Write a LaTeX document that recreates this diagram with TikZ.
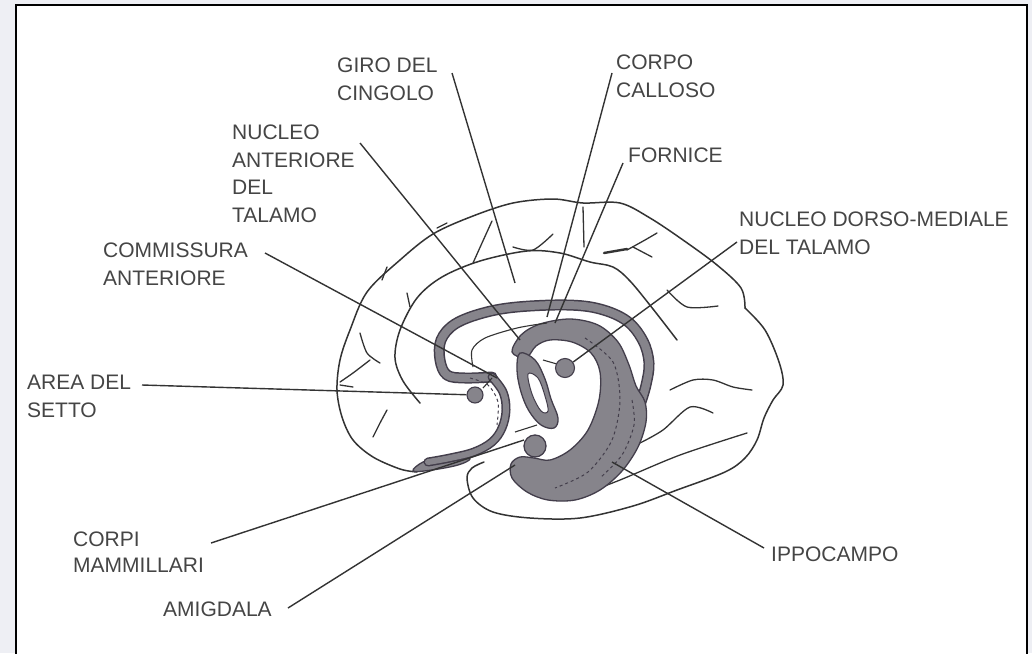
\documentclass[tikz,border=0pt]{standalone}
\usepackage{fontspec}
\setmainfont{Liberation Sans}
\definecolor{ink}{HTML}{333333}
\definecolor{labelgray}{HTML}{454545}
\definecolor{limb}{HTML}{86848B}
\definecolor{limbedge}{HTML}{433E4B}
\definecolor{bgout}{HTML}{EEEFF4}
\begin{document}
\begin{tikzpicture}[x=1pt,y=-1pt,
  lbl/.style={anchor=north west, inner sep=0pt, align=left, text=labelgray,
              font=\fontsize{21}{27.5}\selectfont},
  lead/.style={draw=ink, line width=1.4pt},
  contour/.style={draw=ink, line width=1.5pt, line cap=round, line join=round},
  sulcus/.style={draw=ink, line width=1.3pt, line cap=round},
  grayband/.style={line cap=round, line join=round},
  limbfill/.style={fill=limb, draw=limbedge, line width=1.3pt, line join=round},
  dot/.style={circle, fill=limb, draw=limbedge, line width=1.1pt, inner sep=0pt}]
\useasboundingbox (0,0) rectangle (1032,653);
% page and frame
\fill[bgout] (0,0) rectangle (1032,653);
\filldraw[fill=white, draw=black, line width=2pt] (16,5) rectangle (1027,660);

% ---------- cortex outline ----------
\draw[contour] plot[smooth, tension=0.55] coordinates {
  (417,472) (400,469) (373,457) (353,440) (342,417) (337,390) (340,360)
  (350,330) (367,292) (400,260) (433,234) (473,216) (513,203) (553,199)
  (583,203) (620,203) (650,218) (683,240) (717,265) (741,288) (745,308)};
\draw[contour] plot[smooth, tension=0.55] coordinates {
  (745,308) (765,330) (779,362) (783,385) (773,400) (764,418) (757,440)
  (745,458) (725,472) (677,490) (633,506) (580,518) (530,518) (493,512)
  (473,498) (467,478) (472,468) (484,462)};
% cingulate sulcus
\draw[contour] plot[smooth, tension=0.55] coordinates {
  (420,403) (403,381) (395,358) (400,330) (417,298) (442,277) (480,261)
  (527,251) (560,253) (590,262) (613,267) (630,281) (653,309) (677,340)};
% collateral and other sulci
\draw[sulcus] plot[smooth] coordinates {(573,498) (620,480) (680,455) (747,433)};
\draw[sulcus] plot[smooth] coordinates {(640,443) (663,430) (690,407) (713,413)};
\draw[sulcus] plot[smooth] coordinates {(670,390) (693,380) (713,380) (733,387) (752,390)};
\draw[sulcus] plot[smooth] coordinates {(667,290) (687,307) (718,306)};
\draw[sulcus] plot[smooth] coordinates {(627,250) (645,240) (657,233)};
\draw[sulcus] (633,247) -- (652,257);
\draw[draw=ink, line width=2.4pt, line cap=round] (604,253) -- (627,249);
\draw[sulcus] (583,207) -- (584,247);
\draw[sulcus] plot[smooth] coordinates {(513,247) (533,250) (553,234)};
\draw[sulcus] plot[smooth] coordinates {(473,263) (482,243) (492,221)};
\draw[sulcus] (437,228) -- (447,223);
\draw[sulcus] (382,280) -- (387,267);
\draw[sulcus] (407,293) -- (410,307);
\draw[sulcus] plot[smooth] coordinates {(360,333) (367,353) (380,363)};
\draw[sulcus] plot[smooth] coordinates {(340,382) (353,373) (370,360)};
\draw[sulcus] (340,385) -- (353,387);
\draw[sulcus] plot[smooth] coordinates {(387,410) (380,423) (373,437)};

% ---------- limbic structures ----------
% olfactory piece
\filldraw[limbfill] plot[smooth cycle, tension=0.6] coordinates {
  (413,471) (423,462) (442,457) (462,455) (470,459) (458,465) (432,470)};
% upper arc band, running down into the hippocampus
\draw[grayband, draw=limbedge, line width=11pt] plot[smooth, tension=0.6] coordinates {
  (492,377) (465,378) (447,375) (440,360) (441,340) (455,324) (483,313)
  (517,307) (567,305) (600,309) (627,321) (643,341) (649,363) (646,385) (640,405)};
\draw[grayband, draw=limb, line width=8pt] plot[smooth, tension=0.6] coordinates {
  (492,377) (465,378) (447,375) (440,360) (441,340) (455,324) (483,313)
  (517,307) (567,305) (600,309) (627,321) (643,341) (649,363) (646,385) (640,405)};
% descending band to the olfactory piece
\draw[grayband, draw=limbedge, line width=9pt] plot[smooth, tension=0.6] coordinates {
  (492,377) (503,392) (506,410) (502,428) (492,442) (474,452) (450,458) (428,462)};
\draw[grayband, draw=limb, line width=6pt] plot[smooth, tension=0.6] coordinates {
  (492,377) (503,392) (506,410) (502,428) (492,442) (474,452) (450,458) (428,462)};
% mammillary knob
\filldraw[limbfill] (535,446) circle[radius=11];
% hippocampus
\filldraw[limbfill] plot[smooth cycle, tension=0.55] coordinates {
  (512,352) (521,335) (540,324) (570,319) (598,325) (618,342) (629,365)
  (636,386) (645,402) (646,422) (638,447) (622,471) (600,490) (575,500)
  (548,500) (527,492) (512,478) (511,464) (520,457) (534,458) (550,460)
  (570,450) (588,430) (599,400) (600,372) (591,353) (572,342) (550,340)
  (536,346) (526,358)};
\fill[limb] (535,446) circle[radius=9.8];
% column loop
\filldraw[limbfill] plot[smooth cycle, tension=0.6] coordinates {
  (520,353) (517,370) (521,392) (529,411) (541,425) (554,428) (558,418)
  (551,399) (545,379) (535,360)};
\filldraw[fill=white, draw=limbedge, line width=1pt] plot[smooth cycle, tension=0.6] coordinates {
  (528,374) (532,394) (541,411) (548,411) (545,396) (538,378)};
% texture lines
\draw[draw=limbedge, line width=1pt, dashed] plot[smooth] coordinates {
  (585,338) (613,362) (620,400) (612,440) (588,472) (555,488)};
\draw[draw=limbedge, line width=1pt, dashed] plot[smooth] coordinates {
  (632,400) (634,425) (622,455) (600,478)};
\draw[draw=limbedge, line width=1pt, dashed] plot[smooth] coordinates {
  (470,378) (488,385) (498,402) (497,425)};
% thin lines inside the arc
\draw[draw=ink, line width=1.1pt] plot[smooth] coordinates {
  (473,367) (472,350) (485,338) (517,328) (547,323)};
\draw[draw=ink, line width=1.1pt] (515,432) -- (537,425);
\draw[draw=ink, line width=1.1pt] (543,360) -- (557,364);
\draw[draw=ink, line width=1.1pt] (483,388) -- (492,378);

% nuclei
\node[dot, minimum size=16pt] (septal) at (475,395) {};
\node[dot, minimum size=19pt] (dmnuc) at (565,368) {};

% ---------- labels ----------
\node[lbl] (giro)    at (337,58)  {GIRO DEL\\CINGOLO};
\node[lbl] (corpo)   at (616,55)  {CORPO\\CALLOSO};
\node[lbl] (fornice) at (628,148) {FORNICE};
\node[lbl] (nant)    at (232,125) {NUCLEO\\ANTERIORE\\DEL\\TALAMO};
\node[lbl] (comm)    at (103,243) {COMMISSURA\\ANTERIORE};
\node[lbl] (dm)      at (739,212) {NUCLEO DORSO-MEDIALE\\DEL TALAMO};
\node[lbl] (area)    at (27,375)  {AREA DEL\\SETTO};
\node[lbl, font=\fontsize{21}{26}\selectfont] (corpi) at (73,532) {CORPI\\MAMMILLARI};
\node[lbl] (amig)    at (163,602) {AMIGDALA};
\node[lbl] (ippo)    at (771,547) {IPPOCAMPO};

% ---------- leaders ----------
\coordinate (giroA) at (452,73);    \coordinate (giroB) at (515,283);
\coordinate (corpoA) at (612,73);   \coordinate (corpoB) at (547,317);
\coordinate (fornA) at (623,163);   \coordinate (fornB) at (555,323);
\coordinate (nantA) at (360,143);   \coordinate (nantB) at (520,340);
\coordinate (commA) at (265,253);   \coordinate (commB) at (497,378);
\coordinate (dmA) at (737,242);
\coordinate (areaA) at (142,385);
\coordinate (corpiA) at (211,543);  \coordinate (corpiB) at (524,440);
\coordinate (amigA) at (288,608);   \coordinate (amigB) at (515,465);
\coordinate (ippoA) at (764,548);   \coordinate (ippoB) at (612,462);
\draw[lead] (giroA) -- (giroB);
\draw[lead] (corpoA) -- (corpoB);
\draw[lead] (fornA) -- (fornB);
\draw[lead] (nantA) -- (nantB);
\draw[lead] (commA) -- (commB);
\draw[lead] (dmA) -- (dmnuc);
\draw[lead] (areaA) -- (septal);
\draw[lead] (corpiA) -- (corpiB);
\draw[lead] (amigA) -- (amigB);
\draw[lead] (ippoA) -- (ippoB);
\end{tikzpicture}
\end{document}
